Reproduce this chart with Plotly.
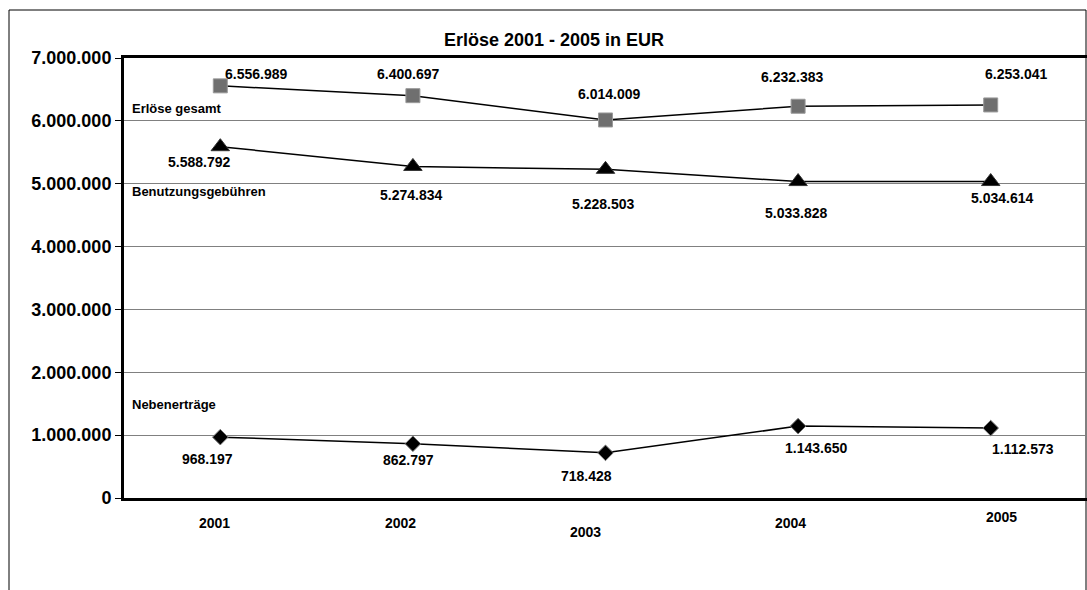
import plotly.graph_objects as go

years = ["2001", "2002", "2003", "2004", "2005"]
erloese_gesamt = [6556989, 6400697, 6014009, 6232383, 6253041]
benutzungsgebuehren = [5588792, 5274834, 5228503, 5033828, 5034614]
nebenertraege = [968197, 862797, 718428, 1143650, 1112573]
y_ticks = [0, 1000000, 2000000, 3000000, 4000000, 5000000, 6000000, 7000000]
y_tick_labels = ["0", "1.000.000", "2.000.000", "3.000.000", "4.000.000",
                 "5.000.000", "6.000.000", "7.000.000"]
series_names = ["Erlöse gesamt", "Benutzungsgebühren", "Nebenerträge"]
title_text = "Erlöse 2001 - 2005 in EUR"

FONT = "Arial, Liberation Sans, sans-serif"


def fmt(v):
    return f"{v:,}".replace(",", ".")


fig = go.Figure()

fig.add_trace(go.Scatter(
    x=years, y=erloese_gesamt, mode="lines+markers", name=series_names[0],
    line=dict(color="black", width=1.5),
    marker=dict(symbol="square", size=14, color="#6f6f6f",
                line=dict(color="#9a9a9a", width=1)),
))
fig.add_trace(go.Scatter(
    x=years, y=benutzungsgebuehren, mode="lines+markers", name=series_names[1],
    line=dict(color="black", width=1.5),
    marker=dict(symbol="triangle-up", size=16, color="black",
                line=dict(color="#333333", width=1)),
))
fig.add_trace(go.Scatter(
    x=years, y=nebenertraege, mode="lines+markers", name=series_names[2],
    line=dict(color="black", width=1.5),
    marker=dict(symbol="diamond", size=12, color="black",
                line=dict(color="#777777", width=1)),
))

# label offsets (pixels) per series / point
shifts = [
    [(36, 12), (-5, 22), (3, 26), (-6, 29), (25, 31)],
    [(-21, -15), (-2, -29), (-3, -35), (-2, -31), (11, -16)],
    [(-13, -22), (-4, -16), (-19, -23), (18, -22), (32, -21)],
]
annotations = []
for vals, sh in zip([erloese_gesamt, benutzungsgebuehren, nebenertraege], shifts):
    for i, (v, (dx, dy)) in enumerate(zip(vals, sh)):
        annotations.append(dict(
            x=i, y=v, xref="x", yref="y", text=fmt(v), showarrow=False,
            xshift=dx, yshift=dy, xanchor="center", yanchor="middle",
            font=dict(family=FONT, size=14, color="black", weight="bold"),
        ))

# plot area in pixels: left 124, right 1087, top 58, bottom 498
L, R, T, B = 124, 1087, 58, 498
W, H = R - L, B - T


def px(xp):
    return (xp - L) / W


def py(yp):
    return (B - yp) / H


# series name labels
for name, ypix in zip(series_names, [108, 191, 404]):
    annotations.append(dict(
        x=px(130), y=py(ypix), xref="paper", yref="paper", text=name,
        showarrow=False, xanchor="left", yanchor="middle",
        font=dict(family=FONT, size=13, color="black", weight="bold"),
    ))

# x category labels (staggered as in the reference)
xlab_shift = [(-6, 523), (-12, 523), (-20, 532), (-8, 523), (11, 517)]
for i, (yr, (dx, ypix)) in enumerate(zip(years, xlab_shift)):
    annotations.append(dict(
        x=i, y=py(ypix), xref="x", yref="paper", text=yr, showarrow=False,
        xshift=dx, xanchor="center", yanchor="middle",
        font=dict(family=FONT, size=14, color="black", weight="bold"),
    ))

# title
annotations.append(dict(
    x=px(554), y=py(40), xref="paper", yref="paper", text=title_text,
    showarrow=False, xanchor="center", yanchor="middle",
    font=dict(family=FONT, size=18, color="black", weight="bold"),
))

shapes = [
    # outer chart frame
    dict(type="rect", xref="paper", yref="paper",
         x0=px(9), x1=px(1086), y0=py(600), y1=py(10),
         line=dict(color="black", width=1), fillcolor="rgba(0,0,0,0)",
         layer="below"),
]

fig.update_layout(
    width=1087, height=590,
    margin=dict(l=L, r=0, t=T, b=590 - B),
    paper_bgcolor="white", plot_bgcolor="white",
    showlegend=False,
    annotations=annotations,
    shapes=shapes,
    font=dict(family=FONT, color="black"),
)
fig.update_xaxes(
    type="category", showticklabels=False, showgrid=False,
    showline=True, linecolor="black", linewidth=3, mirror=True,
    ticks="", range=[-0.5, 4.5], fixedrange=True,
)
fig.update_yaxes(
    range=[0, 7000000], tickvals=y_ticks, ticktext=y_tick_labels,
    showgrid=True, gridcolor="#808080", gridwidth=1,
    showline=True, linecolor="black", linewidth=3,
    ticks="outside", ticklen=6, tickcolor="black", tickwidth=1,
    tickfont=dict(family=FONT, size=18, color="black", weight="bold"),
    zeroline=False, fixedrange=True,
)

fig.write_html("out.html")
